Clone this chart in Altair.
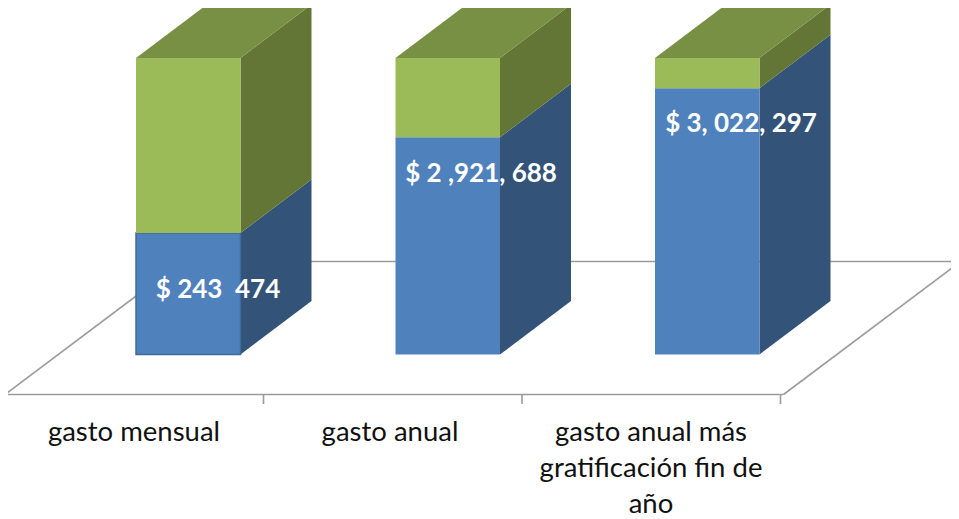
import altair as alt
import pandas as pd

categories = ["gasto mensual", "gasto anual", "gasto anual más gratificación fin de año"]
blue_share = [41.0, 73.3, 89.8]
green_share = [59.0, 26.7, 10.2]
value_labels = ["$ 243\u00a0\u00a0474", "$ 2 ,921, 688", "$ 3, 022, 297"]
category_lines = [["gasto mensual"], ["gasto anual"],
                  ["gasto anual más", "gratificación fin de", "año"]]

# Pixel geometry of the 3-D projection, turned into data units
W, H = 943, 511
CAT = 259.5            # px per category
PCT = 2.965            # px per percent
X0_PX = 5 - 8          # px of category position 0
Y0_PX = 354.5 - 8      # px of 0 %
BAR_W = 104.5 / CAT
BAR_START = 131.0 / CAT
DX = 71.0 / CAT
DY = 53.5 / PCT
FLOOR_FRONT = (354.5 - 394.5) / PCT
FLOOR_BACK = (354.5 - 261.5) / PCT
FLOOR_SHIFT = 177.0 / CAT
TICK_LOW = (354.5 - 404) / PCT
TICK_STEP = 258.5 / CAT

xs = alt.Scale(domain=[-X0_PX / CAT, (W - X0_PX) / CAT], nice=False, zero=False)
ys = alt.Scale(domain=[(Y0_PX - H) / PCT, Y0_PX / PCT], nice=False, zero=False)
X = lambda f: alt.X(f, type="quantitative", scale=xs, axis=None)
Y = lambda f: alt.Y(f, type="quantitative", scale=ys, axis=None)

fronts, sides, tops, labels, cats = [], [], [], [], []
for i in range(3):
    l = i + BAR_START
    r = l + BAR_W
    b = blue_share[i]
    t = b + green_share[i]
    fronts += [dict(i=i, s="b", x=l, x2=r, y=0, y2=b), dict(i=i, s="g", x=l, x2=r, y=b, y2=t)]
    for s, lo, hi in (("b", 0, b), ("g", b, t)):
        sides += [dict(k=f"{i}{s}", s=s, x=r, y=lo, y2=hi),
                  dict(k=f"{i}{s}", s=s, x=r + DX, y=lo + DY, y2=hi + DY)]
    tops += [dict(k=i, y=t, x=l, x2=r), dict(k=i, y=t + DY, x=l + DX, x2=r + DX)]

label_px = [(218, 289.5), (481, 173.5), (741, 123.5)]
for txt, (px, py) in zip(value_labels, label_px):
    labels.append(dict(t=txt, x=(px - 8 - X0_PX) / CAT, y=(354.5 - py) / PCT))

cat_cx = [134, 390, 651]
for cx, lines in zip(cat_cx, category_lines):
    for j, line in enumerate(lines):
        py = 433 + 36 * j
        cats.append(dict(t=line, x=(cx - 8 - X0_PX) / CAT, y=(354.5 - py) / PCT))

edges = [
    dict(x=0, x2=3, y=FLOOR_FRONT, y2=FLOOR_FRONT),
    dict(x=FLOOR_SHIFT, x2=3 + FLOOR_SHIFT, y=FLOOR_BACK, y2=FLOOR_BACK),
    dict(x=0, x2=FLOOR_SHIFT, y=FLOOR_FRONT, y2=FLOOR_BACK),
    dict(x=3, x2=3 + FLOOR_SHIFT, y=FLOOR_FRONT, y2=FLOOR_BACK),
] + [dict(x=k * TICK_STEP, x2=k * TICK_STEP, y=FLOOR_FRONT, y2=TICK_LOW) for k in range(4)]

floor = alt.Chart(pd.DataFrame(edges)).mark_rule(color="#9C9C9C", strokeWidth=1.6).encode(
    x=X("x"), x2="x2", y=Y("y"), y2="y2")

side = alt.Chart(pd.DataFrame(sides)).mark_area(opacity=1).encode(
    x=X("x"), y=Y("y"), y2="y2", detail="k:N",
    color=alt.condition("datum.s == 'b'", alt.value("#335379"), alt.value("#647635")))

top = alt.Chart(pd.DataFrame(tops)).mark_area(orient="horizontal", color="#779044", opacity=1).encode(
    y=Y("y"), x=X("x"), x2="x2", detail="k:N")

front = alt.Chart(pd.DataFrame(fronts)).mark_rect(opacity=1).encode(
    x=X("x"), x2="x2", y=Y("y"), y2="y2",
    color=alt.condition("datum.s == 'b'", alt.value("#4F81BD"), alt.value("#9BBB59")),
    stroke=alt.condition("datum.i == 0 && datum.s == 'b'", alt.value("#3F6A9C"), alt.value("transparent")),
    strokeWidth=alt.value(1.5))

value_text = alt.Chart(pd.DataFrame(labels)).mark_text(
    font="Lato", fontSize=26, fontWeight="bold", color="white", align="center", baseline="middle"
).encode(x=X("x"), y=Y("y"), text="t:N")

cat_text = alt.Chart(pd.DataFrame(cats)).mark_text(
    font="Lato", fontSize=27.5, color="#111111", align="center", baseline="middle"
).encode(x=X("x"), y=Y("y"), text="t:N")

chart = alt.layer(floor, side, top, front, value_text, cat_text).properties(
    width=W, height=H, padding=0, autosize=alt.AutoSizeParams(type="none"),
    background="white"
).configure_view(stroke=None)

chart.save("out.html", embed_options={"renderer": "svg", "actions": False})
